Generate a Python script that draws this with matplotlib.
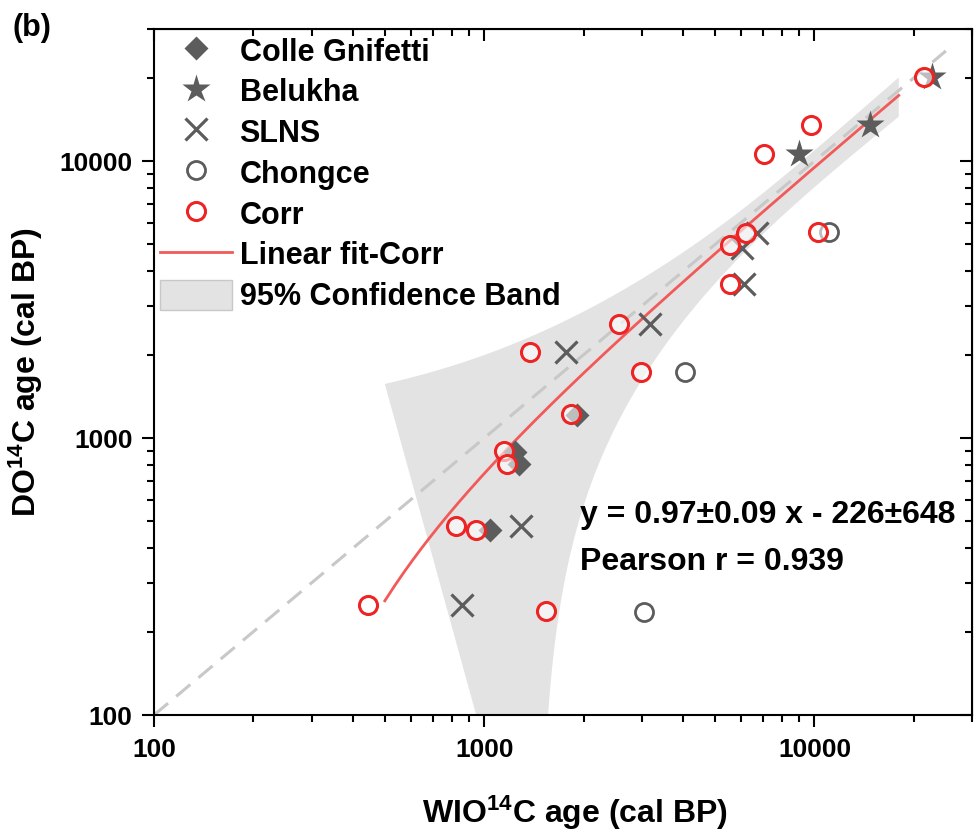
import numpy as np
import matplotlib
matplotlib.use('Agg')
import matplotlib.pyplot as plt
from matplotlib.ticker import FixedLocator, LogLocator, NullFormatter
from matplotlib.lines import Line2D
from matplotlib.patches import Patch

plt.rcParams['font.family'] = 'Liberation Sans'
plt.rcParams['font.weight'] = 'bold'
plt.rcParams['axes.labelweight'] = 'bold'
plt.rcParams['mathtext.fontset'] = 'custom'
plt.rcParams['mathtext.bf'] = 'Liberation Sans:bold'
plt.rcParams['mathtext.rm'] = 'Liberation Sans:bold'
plt.rcParams['mathtext.default'] = 'bf'

# WIO 14C age (x) vs DO 14C age (y), cal BP
colle_x = [1910, 1242, 1270, 1042]
colle_y = [1212, 889, 803, 467]

belukha_x = [22730, 8962, 14780]
belukha_y = [20080, 10570, 13560]

slns_x = [6706, 6040, 6107, 1772, 3170, 1294, 856]
slns_y = [5520, 4872, 3613, 2037, 2579, 480, 249]

chongce_x = [11050, 4046, 3040]
chongce_y = [5546, 1736, 236]

corr_x = [21450, 9795, 7022, 10260, 6209, 5537, 5566, 2558, 1372, 2985,
          1831, 1150, 1172, 822, 944, 446, 1542]
corr_y = [20080, 13560, 10570, 5546, 5489, 4969, 3613, 2579, 2037, 1736,
          1218, 896, 805, 480, 464, 249, 237]

one_to_one = [100, 25000]
fit_range = [500, 18000]
t95 = 2.131   # t(0.975, df=15)

grey = '#5c5c5c'
red = '#ee2424'

# linear fit of Corr + 95% confidence band
cx = np.array(corr_x, float)
cy = np.array(corr_y, float)
n = len(cx)
slope, icpt = np.polyfit(cx, cy, 1)
resid = cy - (slope * cx + icpt)
s = np.sqrt(np.sum(resid ** 2) / (n - 2))
sxx = np.sum((cx - cx.mean()) ** 2)

xf = np.linspace(fit_range[0], fit_range[1], 1000)
yf = slope * xf + icpt
hw = t95 * s * np.sqrt(1.0 / n + (xf - cx.mean()) ** 2 / sxx)
upper = yf + hw
lower = yf - hw
ok = lower > 0

fig = plt.figure(figsize=(9.74, 8.30), dpi=100)
ax = fig.add_axes([154 / 974, 115 / 830, 818 / 974, 686 / 830])
ax.set_xscale('log')
ax.set_yscale('log')

band_x = np.concatenate([xf, xf[ok][::-1]])
band_y = np.concatenate([upper, lower[ok][::-1]])
ax.fill(band_x, band_y, color='#e3e3e3', lw=0, zorder=1)

ax.plot(one_to_one, one_to_one, ls=(0, (6, 3.5)), color='#c8c8c8', lw=2.2, zorder=2)
ax.plot(xf, yf, color='#f25a5a', lw=2, zorder=3)

ax.plot(colle_x, colle_y, 'D', ms=12.5, color=grey, mec='none', zorder=4)
ax.plot(belukha_x, belukha_y, '*', ms=21, color=grey, mec='none', zorder=4)
ax.plot(slns_x, slns_y, 'x', ms=16, color=grey, mew=2.3, zorder=4)
ax.plot(chongce_x, chongce_y, 'o', ms=13, mfc='none', mec=grey, mew=2, zorder=4)
ax.plot(corr_x, corr_y, 'o', ms=13, mfc=(1, 1, 1, 0.6), mec=red, mew=2.2, zorder=5)

ax.set_xlim(100, 30000)
ax.set_ylim(100, 30000)

for axis in [ax.xaxis, ax.yaxis]:
    axis.set_major_locator(FixedLocator([100, 1000, 10000]))
    axis.set_minor_locator(LogLocator(base=10, subs=np.arange(2, 10)))
    axis.set_minor_formatter(NullFormatter())
ax.set_xticklabels(['100', '1000', '10000'])
ax.set_yticklabels(['100', '1000', '10000'])

ax.tick_params(which='both', direction='out', width=1.5, labelsize=19)
ax.tick_params(which='major', length=8.5)
ax.tick_params(which='minor', length=4.8)
ax.tick_params(axis='x', pad=8)
ax.tick_params(axis='y', pad=7)
for sp in ax.spines.values():
    sp.set_linewidth(1.5)

# mirrored inward ticks on top and right
axt = ax.secondary_xaxis('top')
axt.set_xticks([100, 1000, 10000])
axt.xaxis.set_minor_locator(LogLocator(base=10, subs=np.arange(2, 10)))
axt.xaxis.set_minor_formatter(NullFormatter())
axt.tick_params(which='both', direction='in', width=1.5, labeltop=False)
axt.tick_params(which='major', length=8.5)
axt.tick_params(which='minor', length=4.8)
axr = ax.secondary_yaxis('right')
axr.set_yticks([100, 1000, 10000])
axr.yaxis.set_minor_locator(LogLocator(base=10, subs=np.arange(2, 10)))
axr.yaxis.set_minor_formatter(NullFormatter())
axr.tick_params(which='both', direction='in', width=1.5, labelright=False)
axr.tick_params(which='major', length=8.5)
axr.tick_params(which='minor', length=4.8)

ax.set_xlabel('WIO$^{14}$C age (cal BP)', fontsize=23)
ax.xaxis.set_label_coords(0.515, -0.114)
ax.set_ylabel('DO$^{14}$C age (cal BP)', fontsize=23, labelpad=10)

handles = [
    Line2D([], [], marker='D', ls='none', ms=12.5, color=grey, mec='none'),
    Line2D([], [], marker='*', ls='none', ms=21, color=grey, mec='none'),
    Line2D([], [], marker='x', ls='none', ms=16, color=grey, mew=2.3),
    Line2D([], [], marker='o', ls='none', ms=13, mfc='none', mec=grey, mew=2),
    Line2D([], [], marker='o', ls='none', ms=13, mfc='none', mec=red, mew=2.2),
    Line2D([], [], color='#f25a5a', lw=2),
    Patch(facecolor='#e3e3e3', edgecolor='#c8c8c8', lw=1),
]
labels = ['Colle Gnifetti', 'Belukha', 'SLNS', 'Chongce', 'Corr',
          'Linear fit-Corr', '95% Confidence Band']
ax.legend(handles, labels, loc='upper left', bbox_to_anchor=(0, 1),
          borderaxespad=0, borderpad=0.2, frameon=False, fontsize=22,
          handlelength=2.35, handleheight=1.15, handletextpad=0.25,
          labelspacing=0.27)

ax.text(0.521, 0.280, 'y = 0.97\u00b10.09 x - 226\u00b1648', transform=ax.transAxes,
        fontsize=23, va='baseline', ha='left')
ax.text(0.521, 0.211, 'Pearson r = 0.939', transform=ax.transAxes,
        fontsize=23, va='baseline', ha='left')

fig.text(12 / 974, 1 - 28 / 830, '(b)', fontsize=22, va='center', ha='left')

fig.savefig('out.png', dpi=100)
